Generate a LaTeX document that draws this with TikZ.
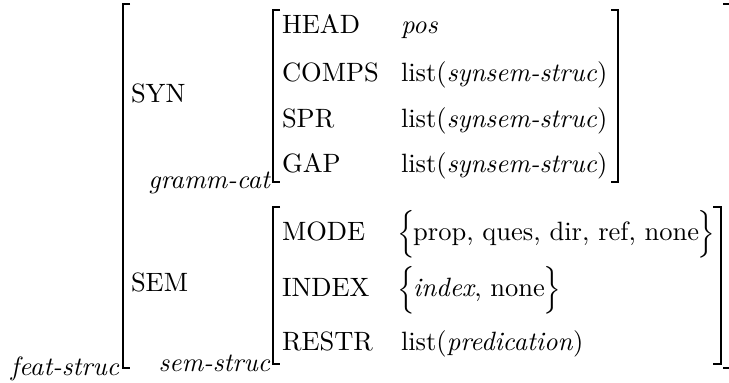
\documentclass[tikz,border=0pt]{standalone}
\begin{document}
\begin{tikzpicture}[x=0.3774pt,y=-0.3774pt,
  lbl/.style={anchor=base west,inner sep=0pt,outer sep=0pt},
  typ/.style={anchor=base east,inner sep=0pt,outer sep=0pt,font=\itshape},
  brk/.style={line width=0.75pt}]
\useasboundingbox (0,0) rectangle (729,383);
% outer structure
\draw[brk] (130,4) -- (123,4) -- (123,368) -- (130,368);
\draw[brk] (723,4) -- (732,4) -- (732,368) -- (723,368);
\node[typ] (fs) at (119,375) {feat-struc};
\node[lbl] (syn) at (131,103) {SYN};
\node[lbl] (sem) at (131,292) {SEM};
% SYN value
\draw[brk] (280,10) -- (273,10) -- (273,182) -- (280,182);
\draw[brk] (611,10) -- (618,10) -- (618,182) -- (611,182);
\node[typ] (gc) at (270,189) {gramm-cat};
\node[lbl] (head) at (282,34) {HEAD};
\node[lbl] (comps) at (282,82) {COMPS};
\node[lbl] (spr) at (282,128) {SPR};
\node[lbl] (gap) at (282,173) {GAP};
\node[lbl] (vhead) at (401,34) {\textit{pos}};
\node[lbl] (vcomps) at (401,82) {list(\textit{synsem-struc})};
\node[lbl] (vspr) at (401,128) {list(\textit{synsem-struc})};
\node[lbl] (vgap) at (401,173) {list(\textit{synsem-struc})};
% SEM value
\draw[brk] (280,207) -- (273,207) -- (273,364) -- (280,364);
\draw[brk] (713,207) -- (721,207) -- (721,364) -- (713,364);
\node[typ] (ss) at (270,371) {sem-struc};
\node[lbl] (mode) at (282,241) {MODE};
\node[lbl] (index) at (282,297) {INDEX};
\node[lbl] (restr) at (282,350) {RESTR};
\node[lbl] (vmode) at (397,241) {$\Big\{\mkern-1mu$prop, ques, dir, ref, none$\mkern-1mu\Big\}$};
\node[lbl] (vindex) at (397,297) {$\Big\{\mkern-1mu$\textit{index}, none$\mkern-1mu\Big\}$};
\node[lbl] (vrestr) at (401,350) {list(\textit{predication})};
\end{tikzpicture}
\end{document}
